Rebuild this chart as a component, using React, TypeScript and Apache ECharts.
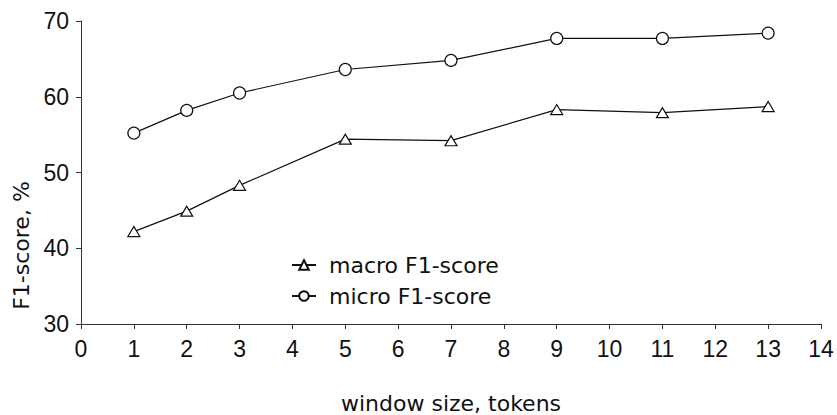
import React, { useEffect, useRef } from "react";
import * as echarts from "echarts";

const windowSizes = [1, 2, 3, 5, 7, 9, 11, 13];
const macroF1 = [42.2, 44.9, 48.3, 54.4, 54.2, 58.3, 57.9, 58.7];
const microF1 = [55.2, 58.2, 60.5, 63.6, 64.8, 67.7, 67.7, 68.4];
const seriesNames = ["macro F1-score", "micro F1-score"];
const xTitle = "window size, tokens";
const yTitle = "F1-score, %";

const FONT = "DejaVu Sans";
const NUM_FONT = "Liberation Sans";

export default function App() {
  const ref = useRef<HTMLDivElement>(null);
  useEffect(() => {
    if (!ref.current) return;
    const chart = echarts.init(ref.current, undefined, { renderer: "svg" });
    const axisCommon = {
      axisLine: { show: true, lineStyle: { color: "#333", width: 1 } },
      axisTick: { show: true, inside: false, length: 5, lineStyle: { color: "#333" } },
      splitLine: { show: false },
      axisLabel: { color: "#111", fontFamily: NUM_FONT, fontSize: 23 },
    };
    chart.setOption({
      animation: false,
      backgroundColor: "#fff",
      grid: { left: 81, right: 16, top: 21, bottom: 91, containLabel: false, outerBoundsMode: "none" },
      xAxis: {
        type: "value",
        min: 0,
        max: 14,
        interval: 1,
        name: xTitle,
        nameLocation: "middle",
        nameGap: 68,
        nameTextStyle: { color: "#111", fontFamily: FONT, fontSize: 22 },
        ...axisCommon,
        axisLabel: { ...axisCommon.axisLabel, margin: 13 },
      },
      yAxis: {
        type: "value",
        min: 30,
        max: 70,
        interval: 10,
        name: yTitle,
        nameLocation: "middle",
        nameGap: 48,
        nameTextStyle: { color: "#111", fontFamily: FONT, fontSize: 22, padding: [0, 146, 0, 0] },
        ...axisCommon,
        axisLabel: { ...axisCommon.axisLabel, margin: 12 },
      },
      legend: {
        orient: "vertical",
        left: 286,
        top: 249,
        itemWidth: 24,
        itemHeight: 12,
        itemGap: 9,
        textStyle: { color: "#111", fontFamily: FONT, fontSize: 22, padding: [0, 0, 0, 8] },
        data: seriesNames,
      },
      series: [
        {
          name: seriesNames[0],
          type: "line",
          data: windowSizes.map((x, i) => [x, macroF1[i]]),
          symbol: "triangle",
          symbolSize: [12, 10],
          showAllSymbol: true,
          lineStyle: { color: "#111", width: 1.2 },
          itemStyle: { color: "#fff", borderColor: "#111", borderWidth: 1.2 },
        },
        {
          name: seriesNames[1],
          type: "line",
          data: windowSizes.map((x, i) => [x, microF1[i]]),
          symbol: "circle",
          symbolSize: 12,
          showAllSymbol: true,
          lineStyle: { color: "#111", width: 1.2 },
          itemStyle: { color: "#fff", borderColor: "#111", borderWidth: 1.2 },
        },
      ],
    });
    return () => chart.dispose();
  }, []);
  return <div ref={ref} style={{ width: 837, height: 415, position: "absolute", left: 0, top: 0 }} />;
}
